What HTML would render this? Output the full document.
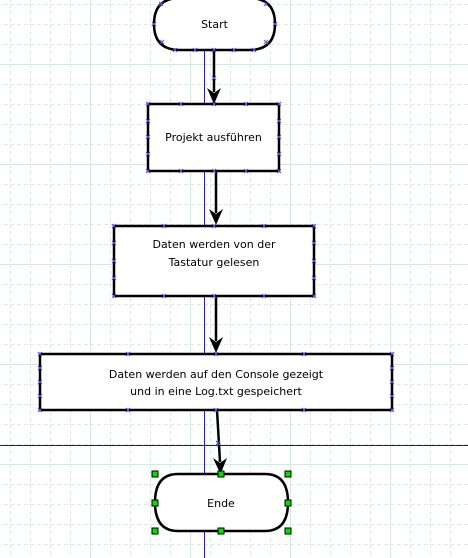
<!DOCTYPE html>
<html><head><meta charset="utf-8"><style>
html,body{margin:0;padding:0;background:#fff;}
svg{display:block;}
text{font-family:"DejaVu Sans","Liberation Sans",sans-serif;font-size:11px;fill:#000;}
</style></head><body>
<svg width="468" height="558" viewBox="0 0 468 558" xmlns="http://www.w3.org/2000/svg">
<defs>
<pattern id="minor" x="0" y="0" width="20" height="20" patternUnits="userSpaceOnUse" patternTransform="translate(10,4)">
<path d="M0 0.5H20" stroke="#dde9e6" stroke-width="1" stroke-dasharray="4,3"/>
<path d="M0.5 0V20" stroke="#dde9e6" stroke-width="1" stroke-dasharray="4,3"/>
</pattern>
<g id="x"><path d="M-2 -2L2 2M-2 2L2 -2" stroke="#5050e0" stroke-width="1"/></g>
</defs>
<rect width="468" height="558" fill="url(#minor)"/>
<g stroke="#d6e6e2" stroke-width="1">
<path d="M90.5 0V558M190.5 0V558M290.5 0V558M390.5 0V558"/>
<path d="M0 64.5H468M0 164.5H468M0 264.5H468M0 364.5H468M0 464.5H468"/>
</g>
<path d="M204.5 0V558" stroke="#2020b0" stroke-width="1"/>
<path d="M0 445.5H468" stroke="#1a1a70" stroke-width="1"/>

<g stroke="#000" stroke-width="2.5" fill="none">
<path d="M214 50V92"/>
<path d="M216 171V213"/>
<path d="M216 296V341"/>
<path d="M217 410L220 462"/>
</g>
<g fill="#000">
<path d="M207 88L214 104L221 88L214 93Z"/>
<path d="M209 209L216 225L223 209L216 214Z"/>
<path d="M209 337L216 353L223 337L216 342Z"/>
<path d="M213 458L220.5 474L227 458L220 463Z"/>
</g>

<g stroke="#000" stroke-width="2.5" fill="#fff">
<path d="M180 -2H249Q275 -2 275 24Q275 50 249 50H180Q154 50 154 24Q154 -2 180 -2Z"/>
<rect x="148" y="104" width="131" height="67"/>
<rect x="114" y="226" width="200" height="70"/>
<rect x="40" y="354" width="352" height="56"/>
<path d="M178 474H265Q288 474 288 502.5Q288 531 265 531H178Q155 531 155 502.5Q155 474 178 474Z"/>
</g>

<g>
<use href="#x" x="161" y="4"/><use href="#x" x="266" y="4"/><use href="#x" x="154" y="24"/><use href="#x" x="275" y="24"/>
<use href="#x" x="162" y="42"/><use href="#x" x="266" y="42"/><use href="#x" x="175" y="50"/><use href="#x" x="195" y="50"/><use href="#x" x="214" y="50"/><use href="#x" x="234" y="50"/><use href="#x" x="254" y="50"/>
<use href="#x" x="214" y="78"/>
<use href="#x" x="148" y="104"/><use href="#x" x="181" y="104"/><use href="#x" x="214" y="104"/><use href="#x" x="246" y="104"/><use href="#x" x="279" y="104"/>
<use href="#x" x="148" y="121"/><use href="#x" x="148" y="137"/><use href="#x" x="148" y="154"/><use href="#x" x="279" y="121"/><use href="#x" x="279" y="137"/><use href="#x" x="279" y="154"/>
<use href="#x" x="148" y="171"/><use href="#x" x="181" y="171"/><use href="#x" x="214" y="171"/><use href="#x" x="246" y="171"/><use href="#x" x="279" y="171"/>
<use href="#x" x="114" y="226"/><use href="#x" x="164" y="226"/><use href="#x" x="214" y="226"/><use href="#x" x="264" y="226"/><use href="#x" x="314" y="226"/>
<use href="#x" x="114" y="243"/><use href="#x" x="114" y="261"/><use href="#x" x="114" y="278"/><use href="#x" x="314" y="243"/><use href="#x" x="314" y="261"/><use href="#x" x="314" y="278"/>
<use href="#x" x="114" y="296"/><use href="#x" x="164" y="296"/><use href="#x" x="214" y="296"/><use href="#x" x="264" y="296"/><use href="#x" x="314" y="296"/>
<use href="#x" x="40" y="354"/><use href="#x" x="128" y="354"/><use href="#x" x="216" y="354"/><use href="#x" x="304" y="354"/><use href="#x" x="392" y="354"/>
<use href="#x" x="40" y="368"/><use href="#x" x="40" y="382"/><use href="#x" x="40" y="396"/><use href="#x" x="392" y="368"/><use href="#x" x="392" y="382"/><use href="#x" x="392" y="396"/>
<use href="#x" x="40" y="410"/><use href="#x" x="128" y="410"/><use href="#x" x="216" y="410"/><use href="#x" x="304" y="410"/><use href="#x" x="392" y="410"/>
<use href="#x" x="218" y="443"/>
</g>

<text x="214.5" y="28" text-anchor="middle">Start</text>
<text x="213.5" y="141" text-anchor="middle">Projekt ausführen</text>
<text x="214" y="248" text-anchor="middle">Daten werden von der</text>
<text x="214" y="266" text-anchor="middle">Tastatur gelesen</text>
<text x="216" y="378" text-anchor="middle">Daten werden auf den Console gezeigt</text>
<text x="216" y="395" text-anchor="middle">und in eine Log.txt gespeichert</text>
<text x="221" y="507" text-anchor="middle">Ende</text>

<g fill="#00e000" stroke="#000" stroke-width="1">
<rect x="152" y="471" width="6" height="6"/><rect x="218" y="471" width="6" height="6"/><rect x="285" y="471" width="6" height="6"/>
<rect x="152" y="500" width="6" height="6"/><rect x="285" y="500" width="6" height="6"/>
<rect x="152" y="528" width="6" height="6"/><rect x="218" y="528" width="6" height="6"/><rect x="285" y="528" width="6" height="6"/>
</g>
</svg>
</body></html>
